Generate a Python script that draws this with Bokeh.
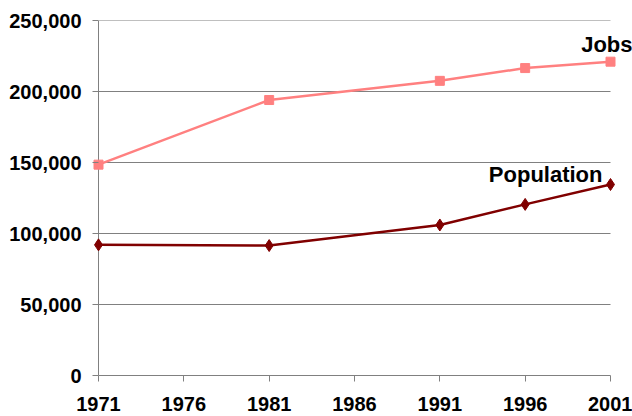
from bokeh.plotting import figure
from bokeh.models import Range1d, FixedTicker, NumeralTickFormatter, Label
from bokeh.embed import file_html
from bokeh.resources import INLINE

years = [1971, 1981, 1991, 1996, 2001]
jobs = [148500, 194000, 207500, 216500, 221000]
population = [92000, 91500, 106000, 120500, 134500]
x_ticks = [1971, 1976, 1981, 1986, 1991, 1996, 2001]
y_ticks = [0, 50000, 100000, 150000, 200000, 250000]

FONT = "Liberation Sans"
GRID = "#808080"

# pixels per year: 512 px over 30 years; pad left 6 px, right 22 px
ppy = 512 / 30.0
x_start = x_ticks[0] - 6 / ppy
x_end = x_ticks[-1] + 22 / ppy

p = figure(width=632, height=416, output_backend="svg", toolbar_location=None,
           x_range=Range1d(x_start, x_end), y_range=Range1d(0, 250000),
           min_border_left=92, min_border_right=0, min_border_top=20,
           min_border_bottom=41)
p.outline_line_color = None
p.background_fill_color = "white"
p.border_fill_color = "white"

p.xgrid.visible = False
p.ygrid.visible = False

# horizontal gridlines spanning the data extent
gy = y_ticks[1:]
p.segment(x0=[x_ticks[0]] * len(gy), y0=gy, x1=[x_ticks[-1]] * len(gy), y1=gy,
          line_color=GRID, line_width=1)
# vertical axis line at the first year
p.segment(x0=[x_ticks[0]], y0=[y_ticks[0]], x1=[x_ticks[0]], y1=[y_ticks[-1]],
          line_color=GRID, line_width=1)

p.xaxis.ticker = FixedTicker(ticks=x_ticks)
p.yaxis.ticker = FixedTicker(ticks=y_ticks)
p.yaxis.formatter = NumeralTickFormatter(format="0,0")
p.xaxis.bounds = (x_ticks[0], x_ticks[-1])

for ax in (p.xaxis[0], p.yaxis[0]):
    ax.axis_line_color = GRID
    ax.axis_line_width = 1
    ax.major_tick_line_color = GRID
    ax.minor_tick_line_color = None
    ax.major_label_text_font = FONT
    ax.major_label_text_font_style = "bold"
    ax.major_label_text_font_size = "20px"
    ax.major_label_text_color = "black"

p.xaxis.major_tick_in = 0
p.xaxis.major_tick_out = 6
p.xaxis.major_label_standoff = 15

p.yaxis.axis_line_color = None
p.yaxis.major_tick_in = 6
p.yaxis.major_tick_out = 0
p.yaxis.major_label_standoff = 11

p.line(years, jobs, line_color="#FF8080", line_width=2.5)
p.scatter(years, jobs, marker="square", size=9, fill_color="#FF8080", line_color="#FF8080")
p.line(years, population, line_color="#800000", line_width=2.5)
p.scatter(years, population, marker="diamond", size=12, fill_color="#800000", line_color="#800000")

p.add_layout(Label(x=years[-1], y=jobs[-1], text="Jobs", text_align="right",
                   text_baseline="alphabetic", x_offset=22, y_offset=17,
                   text_font=FONT, text_font_style="bold", text_font_size="22px",
                   text_color="black"))
p.add_layout(Label(x=years[-1], y=population[-1], text="Population", text_align="right",
                   text_baseline="alphabetic", x_offset=-8, y_offset=10,
                   text_font=FONT, text_font_style="bold", text_font_size="22px",
                   text_color="black"))

open("out.html", "w").write(file_html(p, INLINE))
